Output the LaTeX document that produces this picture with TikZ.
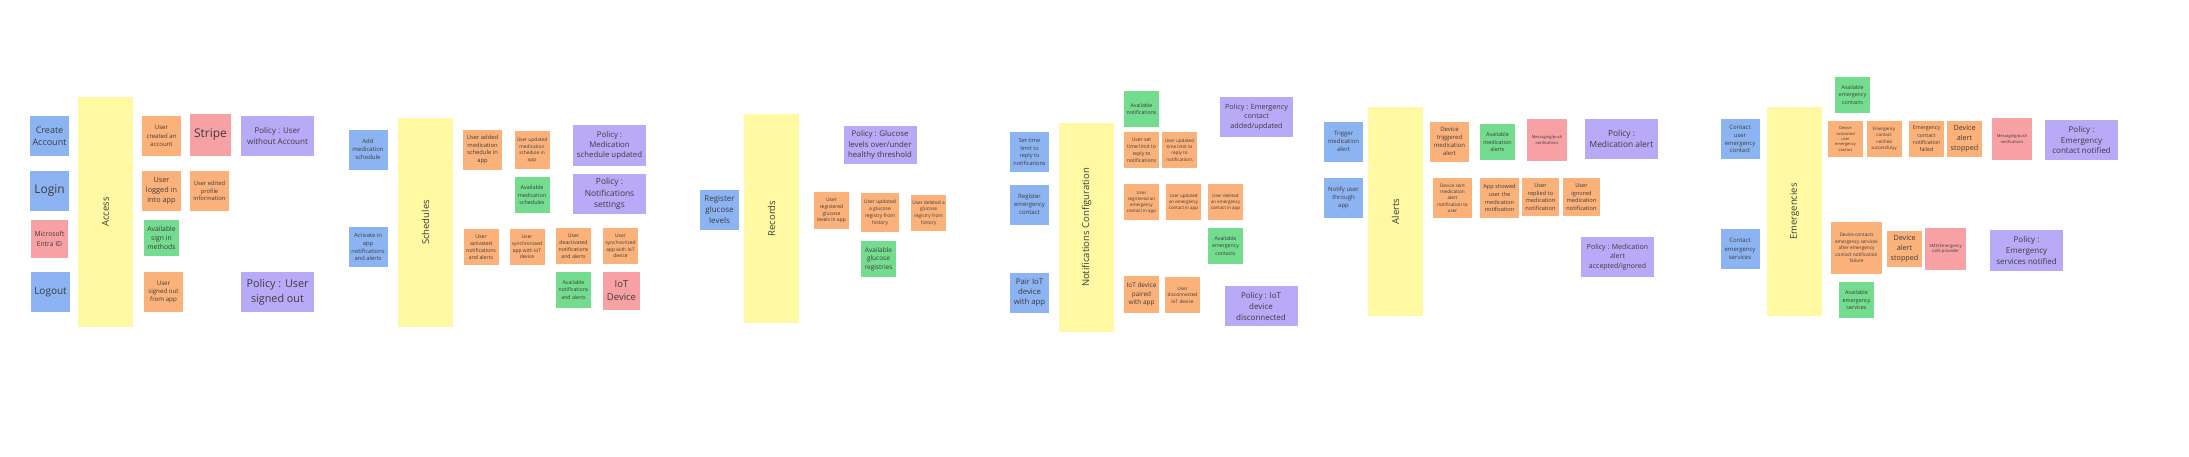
\documentclass[tikz,border=0pt]{standalone}
\usepackage{fontspec}
\setmainfont{Open Sans}
\usepackage{xcolor}
\usepackage{tikz}
\usetikzlibrary{positioning}

\definecolor{cmdblue}{HTML}{8DB4F2}
\definecolor{evtorange}{HTML}{FBB27A}
\definecolor{extred}{HTML}{F7A1A4}
\definecolor{viewgreen}{HTML}{74DC8E}
\definecolor{polpurple}{HTML}{B9AAF7}
\definecolor{ctxyellow}{HTML}{FFF9A3}
\definecolor{inkgray}{HTML}{3C3C3C}

\begin{document}
\begin{tikzpicture}[x=1pt, y=-1pt,
    fs/.style n args={2}{font=\fontsize{#1}{#2}\selectfont},
    note/.style={inner sep=1pt, align=center, text=inkgray, minimum width=39pt, minimum height=40pt},
    small/.style={minimum width=35pt, minimum height=36pt},
    wide/.style={minimum width=73pt, minimum height=40pt},
    ctx/.style={note, fill=ctxyellow, rotate=90, minimum width=209pt, minimum height=55pt, fs={9.5}{12}}]

    \fill[white] (0,0) rectangle (2189,456);
    \useasboundingbox (0,0) rectangle (2189,456);

    % bounded contexts
    \node[ctx, minimum width=230pt] (A) at (105.5,212) {Access};
    \node[ctx] (S) at (425.5,222.5) {Schedules};
    \node[ctx] (R) at (771.5,218.5) {Records};
    \node[ctx] (N) at (1086.5,227.5) {Notifications Configuration};
    \node[ctx] (L) at (1395.5,211.5) {Alerts};
    \node[ctx] (E) at (1794.5,211.5) {Emergencies};

    % commands
    \begin{scope}[every node/.style={note, fill=cmdblue}]
    \node[fs={9}{12}] (A1) at (49.5,136) {Create\\Account};
    \node[fs={12}{16}] (A2) at (49.5,191) {Login};
    \node[fs={10}{13}] (A4) at (50.5,292) {Logout};
    \node[fs={6}{8}] (S1) at (368,149.5) {Add\\medication\\schedule};
    \node[fs={5.8}{7.8}] (S2) at (368,247) {Activate in\\app\\notifications\\and alerts};
    \node[fs={8}{11}] (R1) at (719.5,209.5) {Register\\glucose\\levels};
    \node[fs={5.6}{7.6}] (N1) at (1029.5,152) {Set time\\limit to\\reply to\\notifications};
    \node[fs={6}{8}] (N2) at (1029.5,204.5) {Register\\emergency\\contact};
    \node[fs={7.8}{10.4}] (N3) at (1029.5,292.5) {Pair IoT\\device\\with app};
    \node[fs={6}{8}] (L1) at (1343.5,141.5) {Trigger\\medication\\alert};
    \node[fs={6}{8}] (L2) at (1343.5,197.5) {Notify user\\through\\app};
    \node[fs={5.9}{7.9}] (E1) at (1740,139) {Contact\\user\\emergency\\contact};
    \node[fs={6}{8.2}] (E2) at (1740,249) {Contact\\emergency\\services};
    \end{scope}

    % domain events
    \begin{scope}[every node/.style={note, fill=evtorange}]
    \node[fs={6}{8.6}] (A6) at (161.5,136) {User\\created an\\account};
    \node[fs={7.3}{10}] (A8) at (161.5,191) {User\\logged in\\into app};
    \node[fs={5.8}{7.4}] (A9) at (209.5,191) {User edited\\profile\\information};
    \node[fs={6.2}{8.4}] (A11) at (163.5,292) {User\\signed out\\from app};
    \node[fs={5.8}{7.8}] (S3) at (482.5,149.5) {User added\\medication\\schedule in\\app};
    \node[small, fs={5.2}{7}] (S4) at (481,247) {User\\activated\\notifications\\and alerts};
    \node[small, minimum height=38pt, fs={4.8}{6.5}] (S5) at (532,150) {User updated\\medication\\schedule in\\app};
    \node[small, fs={4.9}{6.8}] (S7) at (527,247) {User\\synchronized\\app with IoT\\device};
    \node[small, fs={5.2}{7}] (S8) at (573.5,246) {User\\deactivated\\notifications\\and alerts};
    \node[small, fs={4.9}{6.8}] (S9) at (620.5,246) {User\\synchronized\\app with IoT\\device};
    \node[small, minimum height=37pt, fs={5}{6.8}] (R3) at (831.5,210.5) {User\\registered\\glucose\\levels in app};
    \node[minimum width=38pt, minimum height=39pt, fs={5}{7}] (R4) at (880,212.5) {User updated\\a glucose\\registry from\\history};
    \node[small, fs={4.8}{6.6}] (R5) at (928.5,213) {User deleted a\\glucose\\registry from\\history};
    \node[small, fs={5.1}{7}] (N5) at (1141.5,150) {User set\\time limit to\\reply to\\notifications};
    \node[small, fs={4.6}{6.4}] (N6) at (1179.5,150) {User updated\\time limit to\\reply to\\notifications};
    \node[small, fs={4.4}{6}] (N7) at (1141.5,202) {User\\registered an\\emergency\\contact in app};
    \node[small, fs={4.4}{6}] (N8) at (1183.5,202) {User updated\\an emergency\\contact in app};
    \node[small, fs={4.4}{6}] (N9) at (1225.5,202) {User deleted\\an emergency\\contact in app};
    \node[small, minimum height=37pt, fs={6.4}{8.4}] (N11) at (1141.5,294.5) {IoT device\\paired\\with app};
    \node[small, fs={4.8}{6.6}] (N12) at (1182.5,295) {User\\disconnected\\IoT device};
    \node[fs={6}{8}] (L3) at (1449.5,141.5) {Device\\triggered\\medication\\alert};
    \node[fs={4.7}{6.3}] (L6) at (1452.5,198) {Device sent\\medication\\alert\\notification to\\user};
    \node[fs={5.6}{7.8}] (L7) at (1499.5,198) {App showed\\user the\\medication\\notification};
    \node[minimum width=37pt, minimum height=38pt, fs={5.7}{7.8}] (L8) at (1540.5,197) {User\\replied to\\medication\\notification};
    \node[minimum width=37pt, minimum height=38pt, fs={5.7}{7.8}] (L9) at (1581.5,197) {User\\ignored\\medication\\notification};
    \node[small, fs={4}{5.3}] (E4) at (1845.5,139) {Device\\contacted\\user\\emergency\\contact};
    \node[small, fs={4.4}{6.2}] (E5) at (1884,139) {Emergency\\contact\\notified\\successfulyy};
    \node[small, fs={5.3}{7.4}] (E6) at (1926.5,139) {Emergency\\contact\\notification\\failed};
    \node[small, fs={7.2}{9.8}] (E7) at (1964.5,139) {Device\\alert\\stopped};
    \node[minimum width=51pt, minimum height=52pt, fs={4.7}{6.4}] (E10) at (1856.5,248) {Device contacts\\emergency services\\after emergency\\contact notification\\failure};
    \node[small, fs={7.2}{9.8}] (E12) at (1904.5,249) {Device\\alert\\stopped};
    \end{scope}

    % external systems
    \begin{scope}[every node/.style={note, fill=extred}]
    \node[minimum width=37pt, minimum height=38pt, fs={6.8}{9.4}] (A3) at (49.5,239) {Microsoft\\Entra ID};
    \node[minimum width=41pt, minimum height=42pt, fs={12}{16}] (A7) at (210.5,135) {Stripe};
    \node[minimum width=37pt, minimum height=38pt, fs={9.5}{13}] (S11) at (621.5,291) {IoT\\Device};
    \node[minimum width=40pt, minimum height=42pt, fs={4}{5.4}] (L5) at (1547,140) {Messaging/push\\notifications};
    \node[minimum width=40pt, minimum height=42pt, fs={4}{5.4}] (E8) at (2012,139) {Messaging/push\\notifications};
    \node[minimum width=41pt, minimum height=42pt, fs={4.3}{5.8}] (E13) at (1945.5,249) {SMS/Emergency\\calls provider};
    \end{scope}

    % read models
    \begin{scope}[every node/.style={note, small, fill=viewgreen}]
    \node[fs={6.8}{9}] (A10) at (161.5,238) {Available\\sign in\\methods};
    \node[fs={5.4}{7.4}] (S6) at (532,195) {Available\\medication\\schedules};
    \node[fs={5.2}{7.2}] (S10) at (573.5,290) {Available\\notifications\\and alerts};
    \node[fs={6.5}{8.6}] (R6) at (878.5,259) {Available\\glucose\\registries};
    \node[fs={5.2}{7.2}] (N4) at (1141.5,109) {Available\\notifications};
    \node[fs={5.2}{7.2}] (N10) at (1225.5,246) {Available\\emergency\\contacts};
    \node[fs={5.4}{7.4}] (L4) at (1497.5,142) {Available\\medication\\alerts};
    \node[fs={5.3}{7.4}] (E3) at (1852.5,95) {Available\\emergency\\contacts};
    \node[fs={5.4}{7.4}] (E11) at (1856.5,300) {Available\\emergency\\services};
    \end{scope}

    % policies
    \begin{scope}[every node/.style={note, wide, fill=polpurple}]
    \node[fs={8}{10.8}] (A12) at (277.5,136) {Policy : User\\without Account};
    \node[fs={10.8}{14.6}] (A13) at (277.5,292) {Policy : User\\signed out};
    \node[minimum height=41pt, fs={7.8}{10.3}] (S12) at (609.5,145.5) {Policy :\\Medication\\schedule updated};
    \node[fs={8.4}{11.5}] (S13) at (609.5,194) {Policy :\\Notifications\\settings};
    \node[minimum height=38pt, fs={7.8}{10.4}] (R2) at (880,145) {Policy : Glucose\\levels over/under\\healthy threshold};
    \node[fs={7.2}{9.8}] (N13) at (1256.5,117) {Policy : Emergency\\contact\\added/updated};
    \node[fs={8}{11}] (N14) at (1261,306) {Policy : IoT\\device\\disconnected};
    \node[fs={8.4}{11.2}] (L10) at (1621.5,139) {Policy :\\Medication alert};
    \node[fs={7}{9.8}] (L11) at (1617.5,257) {Policy : Medication\\alert\\accepted/ignored};
    \node[fs={8}{10.8}] (E9) at (2081.5,140) {Policy :\\Emergency\\contact notified};
    \node[minimum height=41pt, fs={8}{10.8}] (E14) at (2026.5,250.5) {Policy :\\Emergency\\services notified};
    \end{scope}
\end{tikzpicture}
\end{document}
